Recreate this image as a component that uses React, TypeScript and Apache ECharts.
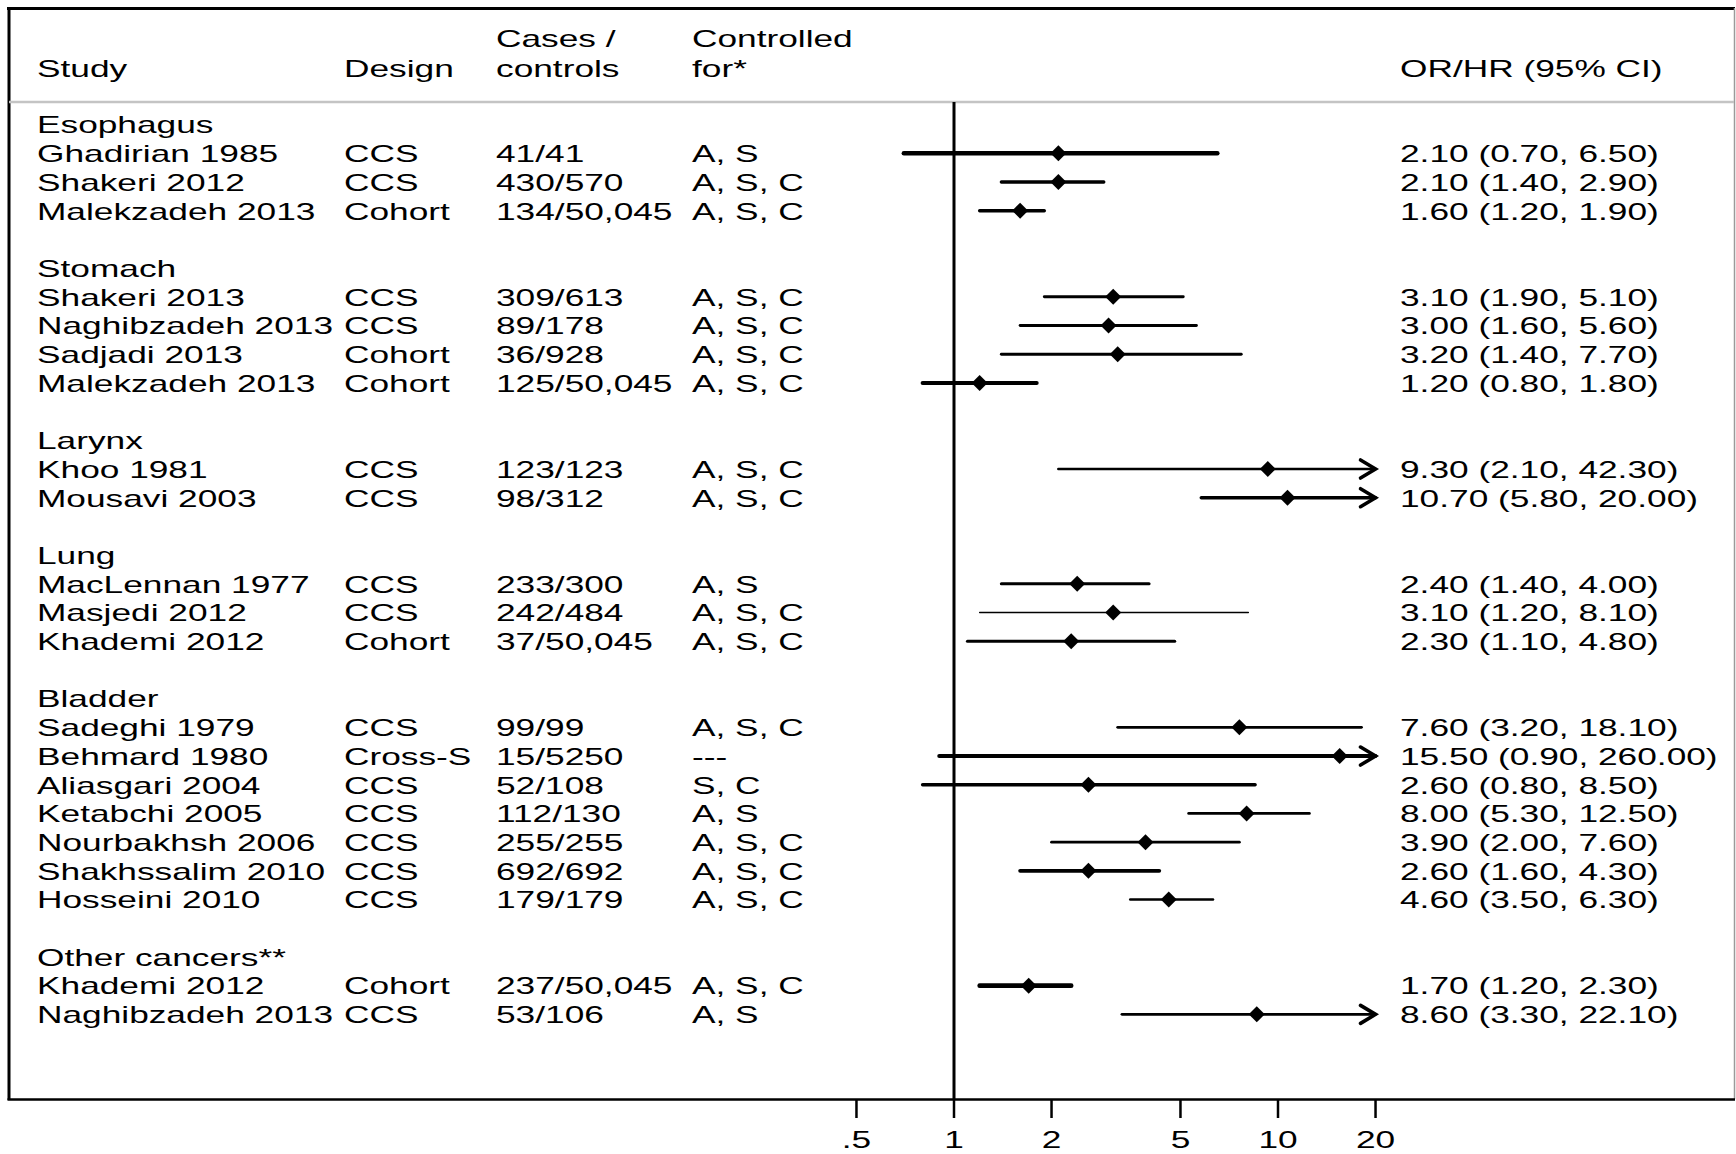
import React, { useEffect, useRef } from "react";
import * as echarts from "echarts";

// ---------- data ----------
const groupNames = ["Esophagus", "Stomach", "Larynx", "Lung", "Bladder", "Other cancers**"];
const groupSizes = [3, 4, 2, 3, 7, 2];

const studies = [
  "Ghadirian 1985", "Shakeri 2012", "Malekzadeh 2013",
  "Shakeri 2013", "Naghibzadeh 2013", "Sadjadi 2013", "Malekzadeh 2013",
  "Khoo 1981", "Mousavi 2003",
  "MacLennan 1977", "Masjedi 2012", "Khademi 2012",
  "Sadeghi 1979", "Behmard 1980", "Aliasgari 2004", "Ketabchi 2005", "Nourbakhsh 2006", "Shakhssalim 2010", "Hosseini 2010",
  "Khademi 2012", "Naghibzadeh 2013",
];
const designs = [
  "CCS", "CCS", "Cohort",
  "CCS", "CCS", "Cohort", "Cohort",
  "CCS", "CCS",
  "CCS", "CCS", "Cohort",
  "CCS", "Cross-S", "CCS", "CCS", "CCS", "CCS", "CCS",
  "Cohort", "CCS",
];
const casesControls = [
  "41/41", "430/570", "134/50,045",
  "309/613", "89/178", "36/928", "125/50,045",
  "123/123", "98/312",
  "233/300", "242/484", "37/50,045",
  "99/99", "15/5250", "52/108", "112/130", "255/255", "692/692", "179/179",
  "237/50,045", "53/106",
];
const controlledFor = [
  "A, S", "A, S, C", "A, S, C",
  "A, S, C", "A, S, C", "A, S, C", "A, S, C",
  "A, S, C", "A, S, C",
  "A, S", "A, S, C", "A, S, C",
  "A, S, C", "---", "S, C", "A, S", "A, S, C", "A, S, C", "A, S, C",
  "A, S, C", "A, S",
];
const estimates = [2.1, 2.1, 1.6, 3.1, 3.0, 3.2, 1.2, 9.3, 10.7, 2.4, 3.1, 2.3, 7.6, 15.5, 2.6, 8.0, 3.9, 2.6, 4.6, 1.7, 8.6];
const lowers = [0.7, 1.4, 1.2, 1.9, 1.6, 1.4, 0.8, 2.1, 5.8, 1.4, 1.2, 1.1, 3.2, 0.9, 0.8, 5.3, 2.0, 1.6, 3.5, 1.2, 3.3];
const uppers = [6.5, 2.9, 1.9, 5.1, 5.6, 7.7, 1.8, 42.3, 20.0, 4.0, 8.1, 4.8, 18.1, 260.0, 8.5, 12.5, 7.6, 4.3, 6.3, 2.3, 22.1];
// line thickness of each CI (study weight as drawn)
const lineWidths = [4.4, 3.3, 3.4, 2.9, 2.9, 2.9, 4, 2.7, 3.6, 3, 1.4, 3, 2.8, 3.8, 3.4, 2.8, 2.8, 3.8, 2.6, 4.6, 2.9];

const xTicks = [0.5, 1, 2, 5, 10, 20];
const xTickLabels = [".5", "1", "2", "5", "10", "20"];
const xClip = 20;

// ---------- layout helpers ----------
const FONT = "Liberation Sans";
const FS = 24;
const SX = 1.47;
const Y_MIN = -0.7875;
const Y_MAX = 33.95;
const COL = { study: 37, design: 344, cases: 496, ctrl: 692, est: 1400 };

type Row = { kind: "group" | "study"; row: number; idx: number };
const rows: Row[] = [];
const studyRow: number[] = [];
(() => {
  let r = 0;
  let s = 0;
  groupNames.forEach((g, gi) => {
    rows.push({ kind: "group", row: r, idx: gi });
    r++;
    for (let k = 0; k < groupSizes[gi]; k++) {
      rows.push({ kind: "study", row: r, idx: s });
      studyRow.push(r);
      r++;
      s++;
    }
    r++;
  });
})();

const fmt = (v: number) => v.toFixed(2);
const estText = (i: number) => `${fmt(estimates[i])} (${fmt(lowers[i])}, ${fmt(uppers[i])})`;

const txt = (x: number, y: number, text: string, align = "left") => ({
  type: "text",
  x,
  y,
  scaleX: SX,
  style: {
    text,
    fontSize: FS,
    fontFamily: FONT,
    fill: "#000",
    textAlign: align,
    textVerticalAlign: "middle",
  },
});

export default function App() {
  const ref = useRef<HTMLDivElement>(null);
  useEffect(() => {
    document.body.style.margin = "0";
    if (!ref.current) return;
    const chart = echarts.init(ref.current, undefined, { renderer: "svg" });
    const option: any = {
      animation: false,
      backgroundColor: "#fff",
      grid: { left: 630, top: 102, width: 972, height: 997 },
      xAxis: {
        type: "log",
        logBase: 10,
        min: 0.1,
        max: 100,
        show: false,
      },
      yAxis: {
        type: "value",
        inverse: true,
        min: Y_MIN,
        max: Y_MAX,
        show: false,
      },
      graphic: [
        { type: "line", shape: { x1: 7, y1: 8.5, x2: 1735, y2: 8.5 }, style: { stroke: "#000", lineWidth: 3 } },
        { type: "line", shape: { x1: 9, y1: 7, x2: 9, y2: 1100 }, style: { stroke: "#000", lineWidth: 3 } },
        { type: "line", shape: { x1: 1734.5, y1: 8, x2: 1734.5, y2: 1099 }, style: { stroke: "#9a9a9a", lineWidth: 1.5 } },
        { type: "line", shape: { x1: 9, y1: 102, x2: 1734, y2: 102 }, style: { stroke: "#c4c4c4", lineWidth: 2.5 } },
        { type: "line", shape: { x1: 7.5, y1: 1099.5, x2: 1735, y2: 1099.5 }, style: { stroke: "#000", lineWidth: 2.5 } },
        txt(COL.study, 69, "Study"),
        txt(COL.design, 69, "Design"),
        txt(COL.cases, 39, "Cases /"),
        txt(COL.cases, 69, "controls"),
        txt(COL.ctrl, 39, "Controlled"),
        txt(COL.ctrl, 69, "for*"),
        txt(COL.est, 69, "OR/HR (95% CI)"),
      ],
      series: [
        {
          type: "custom",
          name: "null line",
          data: [[1, Y_MIN]],
          renderItem: (params: any, api: any) => {
            const a = api.coord([1, Y_MIN]);
            const b = api.coord([1, Y_MAX]);
            return {
              type: "line",
              shape: { x1: a[0], y1: a[1], x2: b[0], y2: b[1] },
              style: { stroke: "#000", lineWidth: 3 },
            };
          },
        },
        {
          type: "custom",
          name: "table",
          data: rows.map((r) => [1, r.row]),
          renderItem: (params: any, api: any) => {
            const r = rows[params.dataIndex];
            const y = api.coord([1, api.value(1)])[1] + 0.5;
            if (r.kind === "group") {
              return { type: "group", children: [txt(COL.study, y, groupNames[r.idx])] };
            }
            const i = r.idx;
            return {
              type: "group",
              children: [
                txt(COL.study, y, studies[i]),
                txt(COL.design, y, designs[i]),
                txt(COL.cases, y, casesControls[i]),
                txt(COL.ctrl, y, controlledFor[i]),
                txt(COL.est, y, estText(i)),
              ],
            };
          },
        },
        {
          type: "custom",
          name: "estimates",
          data: studies.map((_, i) => [estimates[i], studyRow[i], lowers[i], uppers[i]]),
          renderItem: (params: any, api: any) => {
            const i = params.dataIndex;
            const est = api.value(0);
            const row = api.value(1);
            const lo = api.value(2);
            const hi = api.value(3);
            const w = lineWidths[i];
            const p0 = api.coord([lo, row]);
            const p1 = api.coord([Math.min(hi, xClip), row]);
            const pe = api.coord([est, row]);
            const children: any[] = [
              {
                type: "line",
                shape: { x1: p0[0], y1: p0[1], x2: p1[0], y2: p1[1] },
                style: { stroke: "#000", lineWidth: w, lineCap: "round" },
              },
            ];
            if (hi >= xClip) {
              children.push({
                type: "polyline",
                shape: {
                  points: [
                    [p1[0] - 15, p1[1] - 9],
                    [p1[0], p1[1]],
                    [p1[0] - 15, p1[1] + 9],
                  ],
                },
                style: { stroke: "#000", fill: null, lineWidth: 3.6, lineCap: "round", lineJoin: "miter" },
              });
            }
            children.push({
              type: "polygon",
              shape: {
                points: [
                  [pe[0] - 8, pe[1]],
                  [pe[0], pe[1] - 8],
                  [pe[0] + 8, pe[1]],
                  [pe[0], pe[1] + 8],
                ],
              },
              style: { fill: "#000", stroke: null },
            });
            return { type: "group", children };
          },
        },
        {
          type: "custom",
          name: "ticks",
          data: xTicks.map((v) => [v, Y_MAX]),
          renderItem: (params: any, api: any) => {
            const p = api.coord([api.value(0), Y_MAX]);
            return {
              type: "group",
              children: [
                {
                  type: "line",
                  shape: { x1: p[0], y1: p[1], x2: p[0], y2: p[1] + 19 },
                  style: { stroke: "#000", lineWidth: 2.5 },
                },
                txt(p[0], p[1] + 41, xTickLabels[params.dataIndex], "center"),
              ],
            };
          },
        },
      ],
    };
    chart.setOption(option);
    return () => chart.dispose();
  }, []);
  return <div ref={ref} style={{ width: 1736, height: 1154 }} />;
}
